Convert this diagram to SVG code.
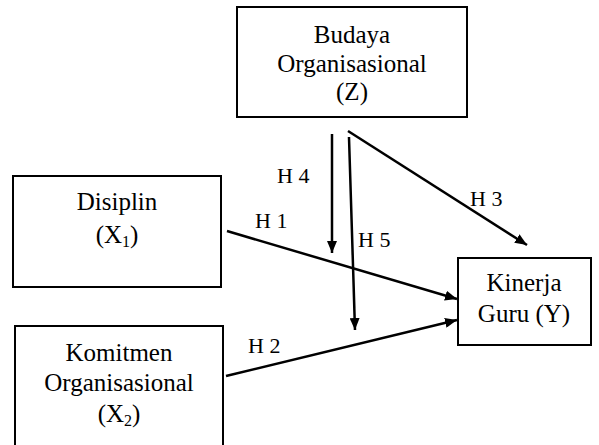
<svg xmlns="http://www.w3.org/2000/svg" width="599" height="445" viewBox="0 0 599 445">
<defs>
<marker id="ah" viewBox="0 0 12 10" refX="12" refY="5" markerWidth="12" markerHeight="10" markerUnits="userSpaceOnUse" orient="auto">
<path d="M0,0 L12,5 L0,10 z" fill="#000"/>
</marker>
<style>
.box{fill:#fff;stroke:#000;stroke-width:2}
.t{font-family:"Liberation Serif","Times New Roman",serif;font-size:25px;fill:#000;text-anchor:middle}
.lb{font-family:"Liberation Serif","Times New Roman",serif;font-size:22px;fill:#000}
.c{stroke:#000;stroke-width:2.5;fill:none;marker-end:url(#ah)}
</style>
</defs>
<rect width="599" height="445" fill="#fff"/>
<g id="budaya">
<rect class="box" x="237" y="7" width="230" height="110"/>
<text class="t" x="352" y="43">Budaya</text>
<text class="t" x="352" y="72">Organisasional</text>
<text class="t" x="352" y="100">(Z)</text>
</g>
<g id="disiplin">
<rect class="box" x="13" y="176" width="208" height="111"/>
<text class="t" x="117" y="210">Disiplin</text>
<text class="t" x="117" y="243">(X<tspan font-size="16" dy="4">1</tspan><tspan dy="-4">)</tspan></text>
</g>
<g id="komitmen">
<path class="box" d="M15,450 L15,326 L223,326 L223,450"/>
<text class="t" x="119" y="361">Komitmen</text>
<text class="t" x="119" y="391">Organisasional</text>
<text class="t" x="119" y="422">(X<tspan font-size="16" dy="4">2</tspan><tspan dy="-4">)</tspan></text>
</g>
<g id="kinerja">
<rect class="box" x="458" y="258" width="133" height="87"/>
<text class="t" x="524" y="291">Kinerja</text>
<text class="t" x="524" y="322">Guru (Y)</text>
</g>
<g id="connectors">
<line class="c" x1="332" y1="134" x2="332" y2="253"/>
<line class="c" x1="349" y1="137" x2="355" y2="330"/>
<line class="c" x1="348" y1="131" x2="527" y2="245"/>
<line class="c" x1="227" y1="231" x2="457" y2="299"/>
<line class="c" x1="226" y1="376" x2="457" y2="320"/>
<text class="lb" x="277" y="183">H 4</text>
<text class="lb" x="255" y="228">H 1</text>
<text class="lb" x="358" y="247">H 5</text>
<text class="lb" x="470" y="206">H 3</text>
<text class="lb" x="248" y="353">H 2</text>
</g>
</svg>
